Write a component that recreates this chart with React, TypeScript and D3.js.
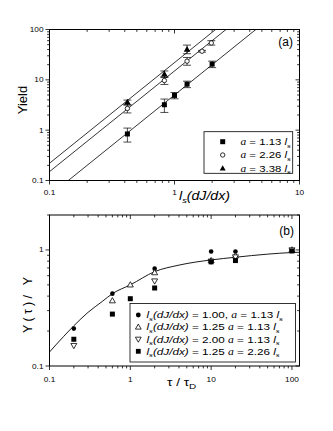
import React from 'react';
import * as d3 from 'd3';

// panel (a): yield vs l_s(dJ/dx)
const sqX = [0.42, 0.83, 1.0, 1.26, 2.0];
const sqY = [0.84, 3.2, 4.9, 8.2, 20.5];
const sqLo = [0.58, 2.25, 4.2, 7.0, 17.5];
const sqHi = [1.1, 4.15, 5.6, 9.4, 23.5];

const ciX = [0.42, 0.83, 1.26, 1.66, 1.97];
const ciY = [2.7, 9.7, 23.5, 37, 54];
const ciLo = [2.2, 8.1, 19.5, 35.5, 49];
const ciHi = [3.2, 11.5, 27.8, 38.5, 60];

const trX = [0.42, 0.83, 1.26];
const trY = [3.6, 13, 40];
const trLo = [3.16, 11.1, 33];
const trHi = [3.96, 15, 49];

// straight fit lines (log-log), values at x = 0.1 and x = 10
const fitX = [0.1, 10];
const fitSq = [0.05, 500];
const fitCi = [0.15, 1500];
const fitTr = [0.22, 2200];

const legendA = ['1.13', '2.26', '3.38'];

// panel (b): Y(tau)/Y vs tau/tau_D
const b1X = [0.2, 0.6, 2, 10, 20, 100];
const b1Y = [0.21, 0.42, 0.69, 0.97, 0.97, 1.0];
const b2X = [0.6, 1, 2, 10, 20, 100];
const b2Y = [0.365, 0.5, 0.637, 0.81, 0.89, 1.0];
const b3X = [0.2, 2, 10, 20, 100];
const b3Y = [0.15, 0.54, 0.8, 0.87, 1.0];
const b4X = [0.2, 0.6, 1, 2, 10, 20, 100];
const b4Y = [0.17, 0.28, 0.38, 0.47, 0.79, 0.81, 0.98];

const curveX = [0.1, 0.15, 0.2, 0.3, 0.45, 0.6, 1, 2, 4, 10, 20, 50, 100, 124];
const curveY = [0.132, 0.18, 0.222, 0.29, 0.36, 0.42, 0.5, 0.65, 0.74, 0.82, 0.865, 0.92, 0.95, 0.955];

const legendBls = ['1.00', '1.25', '2.00', '1.25'];
const legendBa = ['1.13', '1.13', '1.13', '2.26'];
const legendBsep = [', ', '  ', '  ', '  '];

const SANS = '"Liberation Sans", Arial, sans-serif';
const SERIF = '"Liberation Serif", "Times New Roman", serif';

const PA = { l: 49.5, r: 299.5, t: 29.5, b: 180.5 };
const PB = { l: 49.5, r: 299.5, t: 215, b: 366 };

const xa = d3.scaleLog().domain([0.1, 10]).range([PA.l, PA.r]);
const ya = d3.scaleLog().domain([0.1, 100]).range([PA.b, PA.t]);
const xb = d3.scaleLog().domain([0.1, 124]).range([PB.l, PB.r]);
const yb = d3.scaleLog().domain([0.1, 2]).range([PB.b, PB.t]);

const fmt = d3.format('~g');
const isMajor = (t: number) => Math.abs(Math.log10(t) - Math.round(Math.log10(t))) < 1e-6;

function Txt({ x, y, size, sx = 1, anchor = 'start', rotate = false, family = SANS, italic = false, children, ...rest }: any) {
  return (
    <text
      transform={`translate(${x},${y}) scale(${sx},1)${rotate ? ' rotate(-90)' : ''}`}
      fontSize={size}
      fontFamily={family}
      fontStyle={italic ? 'italic' : 'normal'}
      textAnchor={anchor}
      fill="#000"
      {...rest}
    >
      {children}
    </text>
  );
}

function Mark({ type, cx, cy, s = 5 }: any) {
  const tri = (dir: number) => {
    const h = s * 1.05;
    return `${cx},${cy - dir * h * 0.6} ${cx - s * 0.6},${cy + dir * h * 0.4} ${cx + s * 0.6},${cy + dir * h * 0.4}`;
  };
  switch (type) {
    case 'sq':
      return <rect x={cx - s / 2} y={cy - s / 2} width={s} height={s} fill="#000" />;
    case 'circF':
      return <circle cx={cx} cy={cy} r={s / 2} fill="#000" />;
    case 'circO':
      return <circle cx={cx} cy={cy} r={s / 2 - 0.3} fill="#fff" stroke="#000" strokeWidth={0.8} />;
    case 'triF':
      return <polygon points={tri(1)} fill="#000" />;
    case 'triO':
      return <polygon points={tri(1)} fill="#fff" stroke="#000" strokeWidth={0.8} />;
    case 'triDO':
      return <polygon points={tri(-1)} fill="#fff" stroke="#000" strokeWidth={0.8} />;
    default:
      return null;
  }
}

function Axes({ x, y, p, xLabY }: any) {
  const xt = x.ticks().filter((t: number) => t >= x.domain()[0] - 1e-9 && t <= x.domain()[1] + 1e-9);
  const yt = y.ticks().filter((t: number) => t >= y.domain()[0] - 1e-9 && t <= y.domain()[1] + 1e-9);
  return (
    <g stroke="#000" strokeWidth={0.8}>
      <rect x={p.l} y={p.t} width={p.r - p.l} height={p.b - p.t} fill="none" strokeWidth={1} />
      {xt.map((t: number, i: number) => {
        const L = isMajor(t) ? 4 : 2.4;
        const px = x(t);
        return (
          <g key={'x' + i}>
            <line x1={px} x2={px} y1={p.b} y2={p.b + L} />
            <line x1={px} x2={px} y1={p.t} y2={p.t + L} />
          </g>
        );
      })}
      {yt.map((t: number, i: number) => {
        const L = isMajor(t) ? 4 : 2.4;
        const py = y(t);
        return (
          <g key={'y' + i}>
            <line x1={p.l - L} x2={p.l} y1={py} y2={py} />
            <line x1={p.r - L} x2={p.r} y1={py} y2={py} />
          </g>
        );
      })}
      {xt.filter(isMajor).map((t: number, i: number) => (
        <Txt key={'xl' + i} x={x(t)} y={xLabY} size={7.2} sx={1.15} anchor="middle" stroke="none">
          {fmt(t)}
        </Txt>
      ))}
      {yt.filter(isMajor).map((t: number, i: number) => (
        <Txt key={'yl' + i} x={p.l - 6} y={y(t) + 2.5} size={7.2} sx={1.15} anchor="end" stroke="none">
          {fmt(t)}
        </Txt>
      ))}
    </g>
  );
}

function ErrBars({ xs, lo, hi }: any) {
  return (
    <g stroke="#000" strokeWidth={0.7}>
      {xs.map((v: number, i: number) => {
        const px = xa(v);
        return (
          <g key={i}>
            <line x1={px} x2={px} y1={ya(lo[i])} y2={ya(hi[i])} />
            <line x1={px - 4} x2={px + 4} y1={ya(lo[i])} y2={ya(lo[i])} />
            <line x1={px - 4} x2={px + 4} y1={ya(hi[i])} y2={ya(hi[i])} />
          </g>
        );
      })}
    </g>
  );
}

function LsText({ size }: any) {
  return (
    <>
      <tspan fontStyle="italic">l</tspan>
      <tspan fontStyle="italic" fontSize={size * 0.65} dy={size * 0.28}>s</tspan>
    </>
  );
}

export default function App() {
  const fitLine = (vals: number[]) =>
    d3.line<number>().x((_, i) => xa(fitX[i])).y((v) => ya(v))(vals) as string;

  const curve = d3
    .line<number>()
    .x((_, i) => xb(curveX[i]))
    .y((v) => yb(v))
    .curve(d3.curveMonotoneX)(curveY) as string;

  const legA = [
    { type: 'sq', v: legendA[0] },
    { type: 'circO', v: legendA[1] },
    { type: 'triF', v: legendA[2] },
  ];
  const legBTypes = ['circF', 'triO', 'triDO', 'sq'];

  return (
    <svg
      width={333}
      height={431}
      style={{ position: 'absolute', left: 0, top: 0, background: '#fff' }}
      fontFamily={SANS}
    >
      <defs>
        <clipPath id="clipA">
          <rect x={PA.l} y={PA.t} width={PA.r - PA.l} height={PA.b - PA.t} />
        </clipPath>
        <clipPath id="clipB">
          <rect x={PB.l} y={PB.t} width={PB.r - PB.l} height={PB.b - PB.t} />
        </clipPath>
      </defs>

      {/* panel (a) */}
      <g clipPath="url(#clipA)" fill="none" stroke="#000" strokeWidth={0.8}>
        <path d={fitLine(fitSq)} />
        <path d={fitLine(fitCi)} />
        <path d={fitLine(fitTr)} />
      </g>
      <ErrBars xs={sqX} lo={sqLo} hi={sqHi} />
      <ErrBars xs={ciX} lo={ciLo} hi={ciHi} />
      <ErrBars xs={trX} lo={trLo} hi={trHi} />
      {sqX.map((v, i) => <Mark key={'s' + i} type="sq" cx={xa(v)} cy={ya(sqY[i])} s={5} />)}
      {ciX.map((v, i) => <Mark key={'c' + i} type="circO" cx={xa(v)} cy={ya(ciY[i])} s={5} />)}
      {trX.map((v, i) => <Mark key={'t' + i} type="triF" cx={xa(v)} cy={ya(trY[i])} s={5.5} />)}
      <Axes x={xa} y={ya} p={PA} xLabY={195} />

      <rect x={204} y={131.7} width={88.7} height={41.6} fill="#fff" stroke="#000" strokeWidth={0.8} />
      {legA.map((d, i) => {
        const cy = 141.7 + i * 13.3;
        return (
          <g key={'la' + i}>
            <Mark type={d.type} cx={222.7} cy={cy} s={5} />
            <Txt x={240.5} y={cy + 3.3} size={9.5} sx={1.2}>
              <tspan fontFamily={SERIF} fontStyle="italic">a</tspan>
              <tspan> = {d.v} </tspan>
              <LsText size={9.5} />
            </Txt>
          </g>
        );
      })}

      <Txt x={293} y={46} size={12} anchor="end">(a)</Txt>
      <Txt x={26.5} y={100} size={13} anchor="middle" rotate>Yield</Txt>
      <Txt x={179} y={199.5} size={12} sx={1.18}>
        <LsText size={12} />
        <tspan fontStyle="italic" dy={-12 * 0.28}>(dJ/dx)</tspan>
      </Txt>

      {/* panel (b) */}
      <path d={curve} clipPath="url(#clipB)" fill="none" stroke="#000" strokeWidth={0.9} />
      {b1X.map((v, i) => <Mark key={'b1' + i} type="circF" cx={xb(v)} cy={yb(b1Y[i])} s={4.6} />)}
      {b2X.map((v, i) => <Mark key={'b2' + i} type="triO" cx={xb(v)} cy={yb(b2Y[i])} s={5} />)}
      {b3X.map((v, i) => <Mark key={'b3' + i} type="triDO" cx={xb(v)} cy={yb(b3Y[i])} s={5} />)}
      {b4X.map((v, i) => <Mark key={'b4' + i} type="sq" cx={xb(v)} cy={yb(b4Y[i])} s={5} />)}
      <Axes x={xb} y={yb} p={PB} xLabY={382} />

      <rect x={130} y={303.5} width={165.5} height={58.5} fill="#fff" stroke="#000" strokeWidth={0.8} />
      {legBTypes.map((t, i) => {
        const cy = 315 + i * 12.1;
        return (
          <g key={'lb' + i}>
            <Mark type={t} cx={138.3} cy={cy} s={4.8} />
            <Txt x={146.5} y={cy + 3.3} size={9.6} sx={1.22}>
              <LsText size={9.6} />
              <tspan fontStyle="italic" dy={-9.6 * 0.28}>(dJ/dx)</tspan>
              <tspan> = {legendBls[i]}{legendBsep[i]}</tspan>
              <tspan fontFamily={SERIF} fontStyle="italic">a</tspan>
              <tspan> = {legendBa[i]} </tspan>
              <LsText size={9.6} />
            </Txt>
          </g>
        );
      })}

      <Txt x={294} y={234.5} size={12} anchor="end">(b)</Txt>
      <Txt x={31.5} y={305} size={12.5} anchor="middle" rotate textLength={56} lengthAdjust="spacing">
        Y(τ)/ Y
      </Txt>
      <Txt x={167} y={385.5} size={11} sx={1.24}>
        τ / τ<tspan fontSize={8} dy={3}>D</tspan>
      </Txt>
    </svg>
  );
}
